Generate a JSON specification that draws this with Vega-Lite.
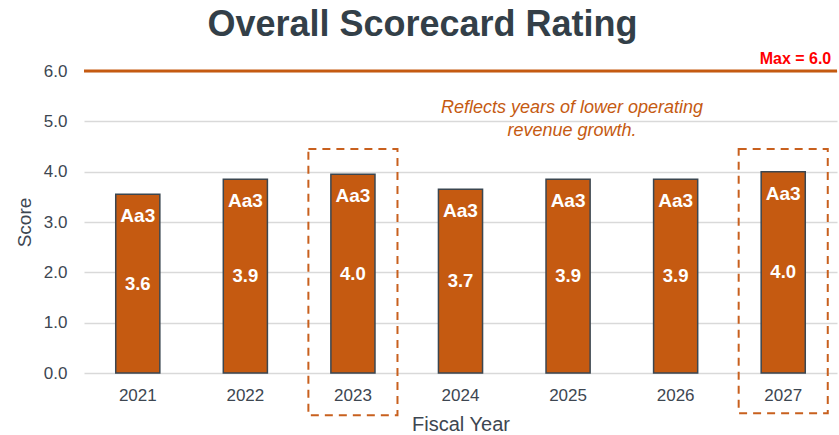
{
  "$schema": "https://vega.github.io/schema/vega-lite/v6.json",
  "autosize": "none",
  "width": 753,
  "height": 302,
  "padding": {"left": 84, "top": 71, "right": 2, "bottom": 62},
  "background": "white",
  "config": {
    "font": "Liberation Sans",
    "view": {"stroke": null},
    "axis": {"labelFont": "Liberation Sans", "titleFont": "Liberation Sans"}
  },
  "title": {
    "text": "Overall Scorecard Rating",
    "fontSize": 36,
    "fontWeight": "bold",
    "color": "#333F48",
    "anchor": "middle",
    "dx": -38,
    "offset": 7
  },
  "datasets": {
    "bars": [
      {"year": "2021", "score": 3.55, "label": "3.6", "rating": "Aa3"},
      {"year": "2022", "score": 3.85, "label": "3.9", "rating": "Aa3"},
      {"year": "2023", "score": 3.95, "label": "4.0", "rating": "Aa3"},
      {"year": "2024", "score": 3.65, "label": "3.7", "rating": "Aa3"},
      {"year": "2025", "score": 3.85, "label": "3.9", "rating": "Aa3"},
      {"year": "2026", "score": 3.85, "label": "3.9", "rating": "Aa3"},
      {"year": "2027", "score": 4.0, "label": "4.0", "rating": "Aa3"}
    ],
    "boxes": [
      {"year": "2023", "top": 4.45, "bottom": -0.84},
      {"year": "2027", "top": 4.45, "bottom": -0.8}
    ]
  },
  "encoding": {
    "x": {
      "field": "year",
      "type": "ordinal",
      "scale": {"domain": ["2021","2022","2023","2024","2025","2026","2027"], "paddingInner": 0.59, "paddingOuter": 0.295},
      "axis": {
        "title": "Fiscal Year",
        "titleFontSize": 20,
        "titleFontWeight": "normal",
        "titleColor": "#3D4651",
        "titlePadding": 11,
        "labelFontSize": 17,
        "labelColor": "#3D4651",
        "labelPadding": 14,
        "labelAngle": 0,
        "domain": false,
        "ticks": false,
        "grid": false
      }
    }
  },
  "layer": [
    {
      "data": {"name": "bars"},
      "mark": {"type": "bar", "color": "#C55A11", "stroke": "#3B4650", "strokeWidth": 1.5},
      "encoding": {
        "y": {
          "field": "score",
          "type": "quantitative",
          "scale": {"domain": [0, 6], "nice": false, "zero": true},
          "axis": {
            "title": "Score",
            "titleFontSize": 19,
            "titleFontWeight": "normal",
            "titleColor": "#3D4651",
            "titlePadding": 9,
            "labelFontSize": 17,
            "labelColor": "#3D4651",
            "labelPadding": 17,
            "format": ".1f",
            "values": [0, 1, 2, 3, 4, 5, 6],
            "domain": false,
            "ticks": false,
            "gridColor": "#D9D9D9",
            "gridWidth": 1.5
          }
        }
      }
    },
    {
      "data": {"name": "bars"},
      "mark": {"type": "text", "color": "white", "fontSize": 19, "fontWeight": "bold", "baseline": "middle", "dy": 22},
      "encoding": {
        "y": {"field": "score", "type": "quantitative"},
        "text": {"field": "rating"}
      }
    },
    {
      "data": {"name": "bars"},
      "transform": [{"calculate": "datum.score / 2", "as": "mid"}],
      "mark": {"type": "text", "color": "white", "fontSize": 18.5, "fontWeight": "bold", "baseline": "middle"},
      "encoding": {
        "y": {"field": "mid", "type": "quantitative"},
        "text": {"field": "label"}
      }
    },
    {
      "data": {"name": "boxes"},
      "mark": {"type": "bar", "fill": null, "fillOpacity": 0, "stroke": "#C8601E", "strokeWidth": 2, "strokeDash": [8, 6], "width": {"band": 2.02}},
      "encoding": {
        "y": {"field": "top", "type": "quantitative"},
        "y2": {"field": "bottom"}
      }
    },
    {
      "data": {"values": [{"max": 6}]},
      "mark": {"type": "rule", "color": "#C55A11", "strokeWidth": 3},
      "encoding": {
        "y": {"field": "max", "type": "quantitative"},
        "x": null
      }
    },
    {
      "data": {"values": [{"year": "2027", "max": 6, "t": "Max = 6.0"}]},
      "mark": {"type": "text", "color": "#FF0000", "fontSize": 16, "fontWeight": "bold", "align": "right", "baseline": "bottom", "dy": -4, "dx": 26},
      "encoding": {
        "x": {"field": "year", "type": "ordinal", "bandPosition": 1},
        "y": {"field": "max", "type": "quantitative"},
        "text": {"field": "t"}
      }
    },
    {
      "data": {"values": [{"year": "2025", "pos": 5.27}]},
      "mark": {"type": "text", "color": "#C55A11", "fontSize": 18, "fontStyle": "italic", "align": "center", "baseline": "middle", "lineHeight": 23, "dx": 4, "text": ["Reflects years of lower operating", "revenue growth."]},
      "encoding": {
        "y": {"field": "pos", "type": "quantitative"}
      }
    }
  ]
}
